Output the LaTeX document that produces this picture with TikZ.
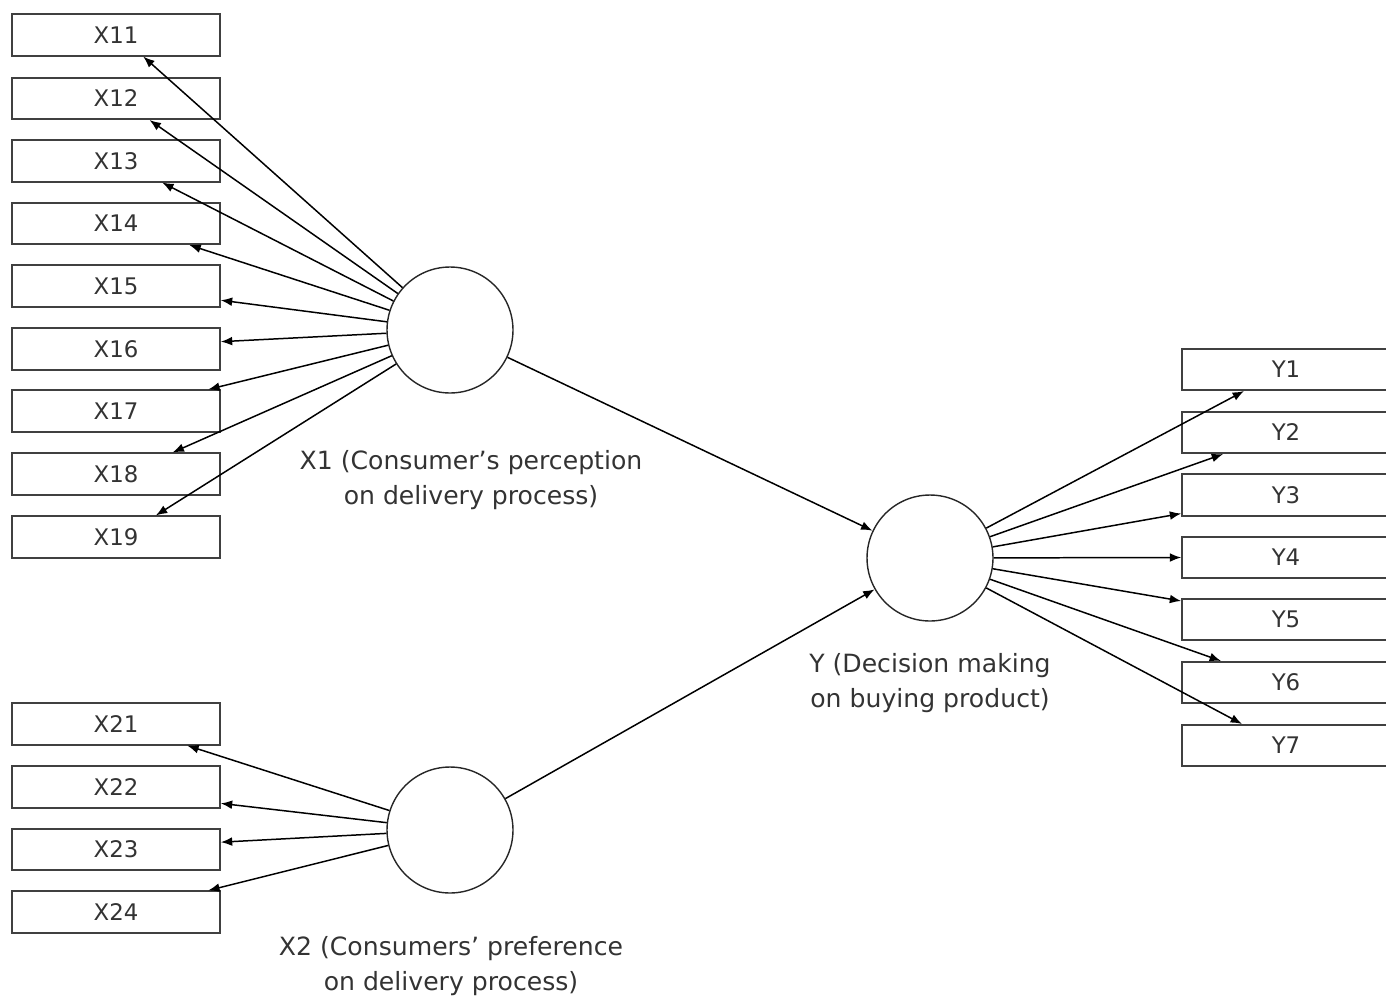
\documentclass[tikz,border=0pt]{standalone}
\usepackage{fontspec}
\setmainfont{DejaVu Sans}
\usetikzlibrary{arrows.meta, positioning, calc}

\begin{document}
\begin{tikzpicture}[x=0.02cm, y=-0.02cm,
    item/.style={draw=black!75, line width=0.9pt, minimum width=4.16cm,
        minimum height=0.83cm, inner sep=0pt,
        font=\fontsize{13}{15}\selectfont, text=black!80},
    latent/.style={circle, draw=black!85, line width=0.8pt,
        minimum size=2.52cm, inner sep=0pt},
    caption/.style={align=center, font=\fontsize{14.3}{20}\selectfont,
        text=black!80},
    link/.style={-{Latex[length=6.5pt,width=5pt]}, line width=0.85pt}]
    \useasboundingbox (0,0) rectangle (1386,998);

    % indicator boxes
    \foreach \n/\y in {11/35, 12/98.5, 13/161, 14/223.5, 15/286,
                       16/349, 17/411, 18/474, 19/537,
                       21/724, 22/787, 23/849.5, 24/912}
        \node[item] (x\n) at (116,\y) {X\n};
    \foreach \n/\y in {1/369.5, 2/432.5, 3/495, 4/557.5,
                       5/619.5, 6/682.5, 7/745.5}
        \node[item] (y\n) at (1286,\y) {Y\n};

    % latent variables
    \node[latent] (x1) at (450,330) {};
    \node[latent] (x2) at (450,830) {};
    \node[latent] (y)  at (930,558) {};

    \node[caption] (x1lab) at (471,480) {X1 (Consumer’s perception\\on delivery process)};
    \node[caption] (x2lab) at (451,966) {X2 (Consumers’ preference\\on delivery process)};
    \node[caption] (ylab)  at (930,683) {Y (Decision making\\on buying product)};

    % X1 loadings
    \foreach \n/\f in {11/0.63, 12/0.66, 13/0.72, 14/0.85}
        \draw[link] (x1) -- ($(x\n.south west)!\f!(x\n.south east)$);
    \draw[link] (x1) -- ($(x15.south east)!0.17!(x15.north east)$);
    \draw[link] (x1) -- ($(x16.south east)!0.67!(x16.north east)$);
    \foreach \n/\f in {17/0.94, 18/0.77, 19/0.69}
        \draw[link] (x1) -- ($(x\n.north west)!\f!(x\n.north east)$);

    % X2 loadings
    \draw[link] (x2) -- ($(x21.south west)!0.84!(x21.south east)$);
    \draw[link] (x2) -- ($(x22.south east)!0.12!(x22.north east)$);
    \draw[link] (x2) -- ($(x23.south east)!0.67!(x23.north east)$);
    \draw[link] (x2) -- ($(x24.north west)!0.94!(x24.north east)$);

    % paths
    \draw[link] (x1) -- (y);
    \draw[link] (x2) -- (y);

    % Y loadings
    \draw[link] (y) -- ($(y1.south west)!0.30!(y1.south east)$);
    \draw[link] (y) -- ($(y2.south west)!0.20!(y2.south east)$);
    \draw[link] (y) -- ($(y3.south west)!0.07!(y3.north west)$);
    \draw[link] (y) -- (y4.west);
    \draw[link] (y) -- ($(y5.south west)!0.93!(y5.north west)$);
    \draw[link] (y) -- ($(y6.north west)!0.19!(y6.north east)$);
    \draw[link] (y) -- ($(y7.north west)!0.29!(y7.north east)$);
\end{tikzpicture}
\end{document}
